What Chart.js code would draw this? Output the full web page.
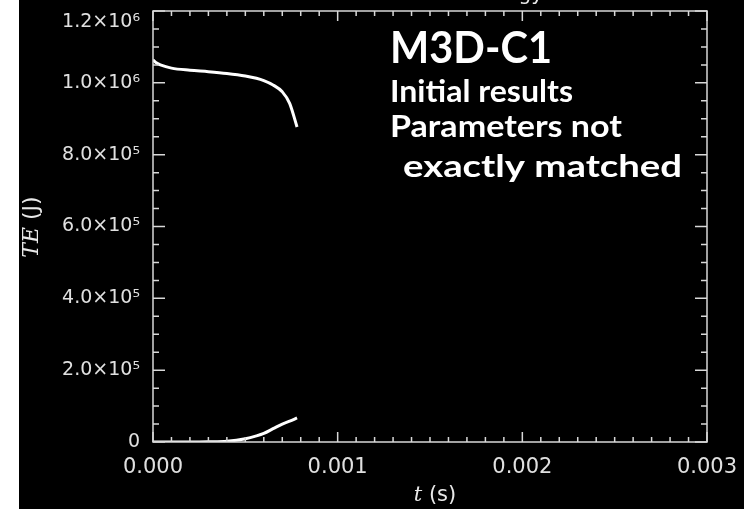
<!DOCTYPE html>
<html>
<head>
<meta charset="utf-8">
<script src="https://cdn.jsdelivr.net/npm/chart.js@4"></script>
<style>
  html, body { margin: 0; padding: 0; background: #fff; width: 744px; height: 509px; overflow: hidden; }
  #wrap { position: absolute; left: 19px; top: 0; width: 725px; height: 509px; }
</style>
</head>
<body>
<div id="wrap"><canvas id="teChart" width="725" height="509"></canvas></div>
<script>
// time (s)
var time = [0, 0.00002, 0.00004, 0.0001, 0.0002, 0.0003, 0.0004, 0.0005, 0.00056, 0.0006, 0.00065, 0.0007, 0.00074, 0.00078];
// upper curve (J)
var teUpper = [1.064e6, 1.055e6, 1.050e6, 1.041e6, 1.035e6, 1.031e6, 1.026e6, 1.019e6, 1.0126e6, 1.006e6, 0.994e6, 0.975e6, 0.943e6, 0.877e6];
// lower curve (J)
var teLower = [0, 0, 0, 0, 0, 500, 2000, 9000, 17000, 24000, 37000, 50000, 58000, 67000];

var xTicks = [0, 0.001, 0.002, 0.003];
var yTicks = [0, 2e5, 4e5, 6e5, 8e5, 1.0e6, 1.2e6];

var supDigits = {'0':'⁰','1':'¹','2':'²','3':'³','4':'⁴','5':'⁵','6':'⁶','7':'⁷','8':'⁸','9':'⁹'};

function sciLabel(v) {
    if (v === 0) return '0';
    var e = Math.floor(Math.log10(v) + 1e-9);
    var m = v / Math.pow(10, e);
    var s = String(e).split('').map(function (c) { return supDigits[c]; }).join('');
    return m.toFixed(1) + '×10' + s;
}

function toPoints(xs, ys) {
    return xs.map(function (x, i) { return {x: x, y: ys[i]}; });
}

// draw text squeezed/stretched to a given width
function fitText(c, txt, x, y, w) {
    var m = c.measureText(txt).width;
    c.save();
    c.translate(x, y);
    c.scale(w / m, 1);
    c.fillText(txt, 0, 0);
    c.restore();
}

var frame = {
    id: 'frame',
    beforeDraw: function (chart) {
        var c = chart.ctx;
        c.save();
        c.fillStyle = '#000';
        c.fillRect(0, 0, chart.width, chart.height);
        c.restore();
    },
    afterDraw: function (chart) {
        var c = chart.ctx, a = chart.chartArea;
        var xs = chart.scales.x, ys = chart.scales.y;
        c.save();
        c.strokeStyle = '#d8d8d8';
        c.lineWidth = 1.5;
        c.strokeRect(a.left, a.top, a.right - a.left, a.bottom - a.top);
        c.beginPath();
        // x ticks, 10 minor per major
        for (var i = 0; i <= 30; i++) {
            var px = xs.getPixelForValue(i * 0.0001);
            var len = (i % 10 === 0) ? 10 : 5;
            c.moveTo(px, a.bottom); c.lineTo(px, a.bottom - len);
            c.moveTo(px, a.top); c.lineTo(px, a.top + len);
        }
        // y ticks, 4 minor per major
        for (var j = 0; j <= 24; j++) {
            var py = ys.getPixelForValue(j * 5e4);
            var l2 = (j % 4 === 0) ? 12 : 6;
            c.moveTo(a.left, py); c.lineTo(a.left + l2, py);
            c.moveTo(a.right, py); c.lineTo(a.right - l2, py);
        }
        c.stroke();

        // clipped title at the very top, only descenders show
        c.fillStyle = '#e8e8e8';
        c.font = '20px "DejaVu Sans"';
        c.textAlign = 'right';
        c.textBaseline = 'alphabetic';
        c.fillText('Total Energy', 524, 0);

        // axis titles
        c.textBaseline = 'middle';
        c.textAlign = 'left';
        var xt1 = 'italic 21px "DejaVu Serif"', xt2 = '21px "DejaVu Sans"';
        c.font = xt1; var w1 = c.measureText('t').width;
        c.font = xt2; var w2 = c.measureText(' (s)').width;
        var x0 = 416 - (w1 + w2) / 2;
        c.font = xt1; c.fillText('t', x0, 496);
        c.font = xt2; c.fillText(' (s)', x0 + w1, 496);

        c.save();
        c.translate(13, 227);
        c.rotate(-Math.PI / 2);
        var yt1 = 'italic 22px "DejaVu Serif"', yt2 = '22px "DejaVu Sans"';
        c.font = yt1; var w3 = c.measureText('TE').width;
        c.font = yt2; var w4 = c.measureText(' (J)').width;
        var y0 = -(w3 + w4) / 2;
        c.font = yt1; c.fillText('TE', y0, 0);
        c.font = yt2; c.fillText(' (J)', y0 + w3, 0);
        c.restore();

        // annotation
        c.fillStyle = '#fff';
        c.textAlign = 'left';
        c.textBaseline = 'alphabetic';
        c.font = 'bold 43px Lato';
        fitText(c, 'M3D-C1', 371, 63, 162);
        c.font = 'bold 30px Lato';
        fitText(c, 'Initial results', 371, 102, 183);
        fitText(c, 'Parameters not', 371, 137, 232);
        fitText(c, 'exactly matched', 384, 177, 279);
        c.restore();
    }
};

var ctx = document.getElementById('teChart').getContext('2d');
var teChart = new Chart(ctx, {
    type: 'line',
    data: {
        datasets: [{
            data: toPoints(time, teUpper),
            borderColor: '#fff',
            borderWidth: 3,
            pointRadius: 0,
            cubicInterpolationMode: 'monotone',
            fill: false
        }, {
            data: toPoints(time, teLower),
            borderColor: '#fff',
            borderWidth: 3,
            pointRadius: 0,
            cubicInterpolationMode: 'monotone',
            fill: false
        }]
    },
    options: {
        responsive: false,
        animation: false,
        devicePixelRatio: 1,
        layout: { padding: { top: 11, right: 37, left: 0, bottom: 0 } },
        plugins: { legend: { display: false }, tooltip: { enabled: false } },
        scales: {
            x: {
                type: 'linear',
                min: 0, max: 0.003,
                grid: { display: false, drawTicks: false },
                border: { display: false },
                afterBuildTicks: function (s) { s.ticks = xTicks.map(function (v) { return {value: v}; }); },
                afterFit: function (s) { s.height = 67; s.paddingLeft = 0; s.paddingRight = 0; },
                ticks: {
                    color: '#e0e0e0',
                    font: { family: 'DejaVu Sans', size: 21 },
                    padding: 13,
                    maxRotation: 0,
                    callback: function (v) { return v.toFixed(3); }
                }
            },
            y: {
                type: 'linear',
                min: 0, max: 1.2e6,
                grid: { display: false, drawTicks: false },
                border: { display: false },
                afterBuildTicks: function (s) { s.ticks = yTicks.map(function (v) { return {value: v}; }); },
                afterFit: function (s) { s.width = 134; s.paddingTop = 0; s.paddingBottom = 0; },
                ticks: {
                    color: '#e0e0e0',
                    font: { family: 'DejaVu Sans', size: 19 },
                    padding: 13,
                    callback: function (v) {
                        // top label sits a little below its tick in the original
                        return v === 1.2e6 ? ['', sciLabel(v)] : sciLabel(v);
                    }
                }
            }
        }
    },
    plugins: [frame]
});
</script>
</body>
</html>
